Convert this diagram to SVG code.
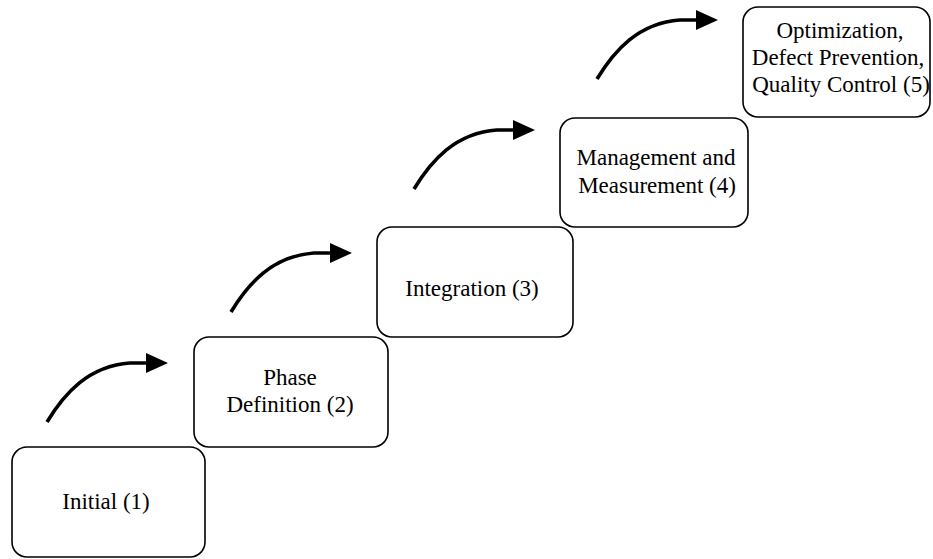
<svg xmlns="http://www.w3.org/2000/svg" xmlns:xlink="http://www.w3.org/1999/xlink" width="933" height="559" viewBox="0 0 933 559">
  <style>
    .box { fill: #ffffff; stroke: #000000; stroke-width: 1.6; }
    .label { font-family: "Liberation Serif", "Times New Roman", serif; font-size: 23px; fill: #000000; text-anchor: middle; }
    .shaft { fill: none; stroke: #000000; stroke-width: 3.6; stroke-linecap: butt; }
    .head { fill: #000000; stroke: none; }
  </style>
  <defs>
    <!-- curved step arrow, tip at the origin -->
    <g id="step-arrow">
      <path class="shaft" d="M-121,59 C-104,31 -80,3 -38,0 L-20,0"/>
      <polygon class="head" points="-22,-10 0,0 -22,10"/>
    </g>
  </defs>

  <rect width="933" height="559" fill="#ffffff"/>

  <g id="connectors">
    <use xlink:href="#step-arrow" href="#step-arrow" transform="translate(168,363)"/>
    <use xlink:href="#step-arrow" href="#step-arrow" transform="translate(352,253)"/>
    <use xlink:href="#step-arrow" href="#step-arrow" transform="translate(535,130)"/>
    <use xlink:href="#step-arrow" href="#step-arrow" transform="translate(718,20)"/>
  </g>

  <g id="node-initial">
    <rect class="box" x="12" y="447" width="193" height="110" rx="15"/>
    <text class="label" x="106" y="509">Initial (1)</text>
  </g>

  <g id="node-phase-definition">
    <rect class="box" x="194" y="337" width="194" height="110" rx="15"/>
    <text class="label" x="290" y="385">Phase</text>
    <text class="label" x="290" y="412">Definition (2)</text>
  </g>

  <g id="node-integration">
    <rect class="box" x="377" y="227" width="196" height="110" rx="15"/>
    <text class="label" x="472" y="296">Integration (3)</text>
  </g>

  <g id="node-management">
    <rect class="box" x="560" y="118" width="188" height="109" rx="15"/>
    <text class="label" x="656" y="165">Management and</text>
    <text class="label" x="657" y="193">Measurement (4)</text>
  </g>

  <g id="node-optimization">
    <rect class="box" x="743" y="7" width="187" height="110" rx="15"/>
    <text class="label" x="840" y="38">Optimization,</text>
    <text class="label" x="838" y="65">Defect Prevention,</text>
    <text class="label" x="841" y="92">Quality Control (5)</text>
  </g>
</svg>
